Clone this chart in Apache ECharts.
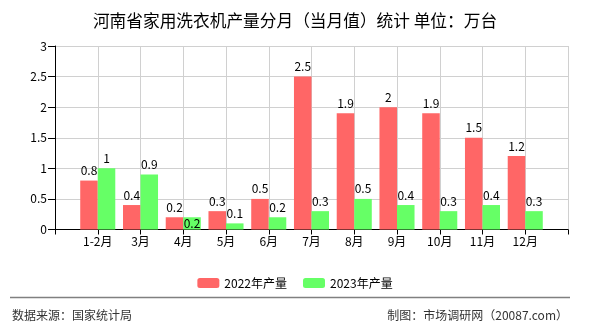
<!DOCTYPE html>
<html>
<head>
<meta charset="utf-8">
<script src="https://cdn.jsdelivr.net/npm/echarts@6/dist/echarts.min.js"></script>
<style>
html,body{margin:0;padding:0;background:#fff;}
#chart{width:590px;height:330px;}
</style>
</head>
<body>
<div id="chart"></div>
<script>
var titleText = '河南省家用洗衣机产量分月（当月值）统计 单位：万台';
var categories = ['1-2月','3月','4月','5月','6月','7月','8月','9月','10月','11月','12月'];
var series2022 = [0.8, 0.4, 0.2, 0.3, 0.5, 2.5, 1.9, 2.0, 1.9, 1.5, 1.2];
var series2023 = [1.0, 0.9, 0.2, 0.1, 0.2, 0.3, 0.5, 0.4, 0.3, 0.4, 0.3];
var seriesNames = ['2022年产量', '2023年产量'];
var yTicks = [0, 0.5, 1, 1.5, 2, 2.5, 3];
var sourceText = '数据来源：国家统计局';
var creditText = '制图：市场调研网（20087.com）';

var font = '"Noto Sans CJK SC", "Noto Sans", sans-serif';
// pad with empty slots at both ends (axis runs tick-to-tick)
var cats = [''].concat(categories).concat(['']);
function pad(arr, overrides) {
  var d = ['-'];
  arr.forEach(function (v, i) {
    if (overrides && overrides[i]) d.push(Object.assign({value: v}, overrides[i]));
    else d.push(v);
  });
  d.push('-');
  return d;
}
var labelStyle = {show: true, position: 'top', color: '#000', fontSize: 12, fontFamily: font, distance: 4,
  formatter: function (p) { return p.value; }};

var chart = echarts.init(document.getElementById('chart'));
chart.setOption({
  animation: false,
  title: {
    text: titleText, left: 'center', top: 7,
    textStyle: {fontSize: 16.7, fontWeight: 'normal', color: '#000', fontFamily: font}
  },
  legend: {
    data: seriesNames, left: 'center', top: 272, itemWidth: 22, itemHeight: 10, itemGap: 16,
    textStyle: {fontSize: 12, color: '#000', fontFamily: font}
  },
  grid: {left: 55, right: 22, top: 46, bottom: 100.5, containLabel: false,
    show: false},
  xAxis: {
    type: 'category', data: cats, boundaryGap: false,
    axisLine: {lineStyle: {color: '#000', width: 1}},
    axisTick: {show: true, length: 5, lineStyle: {color: '#000'}},
    axisLabel: {color: '#000', fontSize: 12, fontFamily: font, margin: 6, interval: 0},
    splitLine: {show: true, lineStyle: {color: '#d0d0d0'}}
  },
  yAxis: {
    type: 'value', min: yTicks[0], max: yTicks[yTicks.length - 1], interval: 0.5,
    axisLine: {show: true, lineStyle: {color: '#000'}},
    axisTick: {show: true, length: 7, lineStyle: {color: '#000'}},
    axisLabel: {color: '#000', fontSize: 12, fontFamily: font, margin: 8},
    splitLine: {show: true, lineStyle: {color: '#d0d0d0'}}
  },
  series: [
    {name: seriesNames[0], type: 'bar', data: pad(series2022), barGap: '0%', barCategoryGap: '18%',
      itemStyle: {color: '#ff6666'}, label: labelStyle},
    {name: seriesNames[1], type: 'bar', data: pad(series2023, {2: {label: {position: 'insideBottom', distance: 0}}}),
      barGap: '0%', barCategoryGap: '18%',
      itemStyle: {color: '#66ff66'}, label: labelStyle}
  ],
  graphic: [
    {type: 'line', shape: {x1: 10, y1: 297.5, x2: 570, y2: 297.5}, style: {stroke: '#808080', lineWidth: 1.3}},
    {type: 'text', left: 12, top: 309, style: {text: sourceText, fontSize: 12, fill: '#333', fontFamily: font}},
    {type: 'text', right: 22, top: 309, style: {text: creditText, fontSize: 12, fill: '#333', fontFamily: font}}
  ]
});
</script>
</body>
</html>
